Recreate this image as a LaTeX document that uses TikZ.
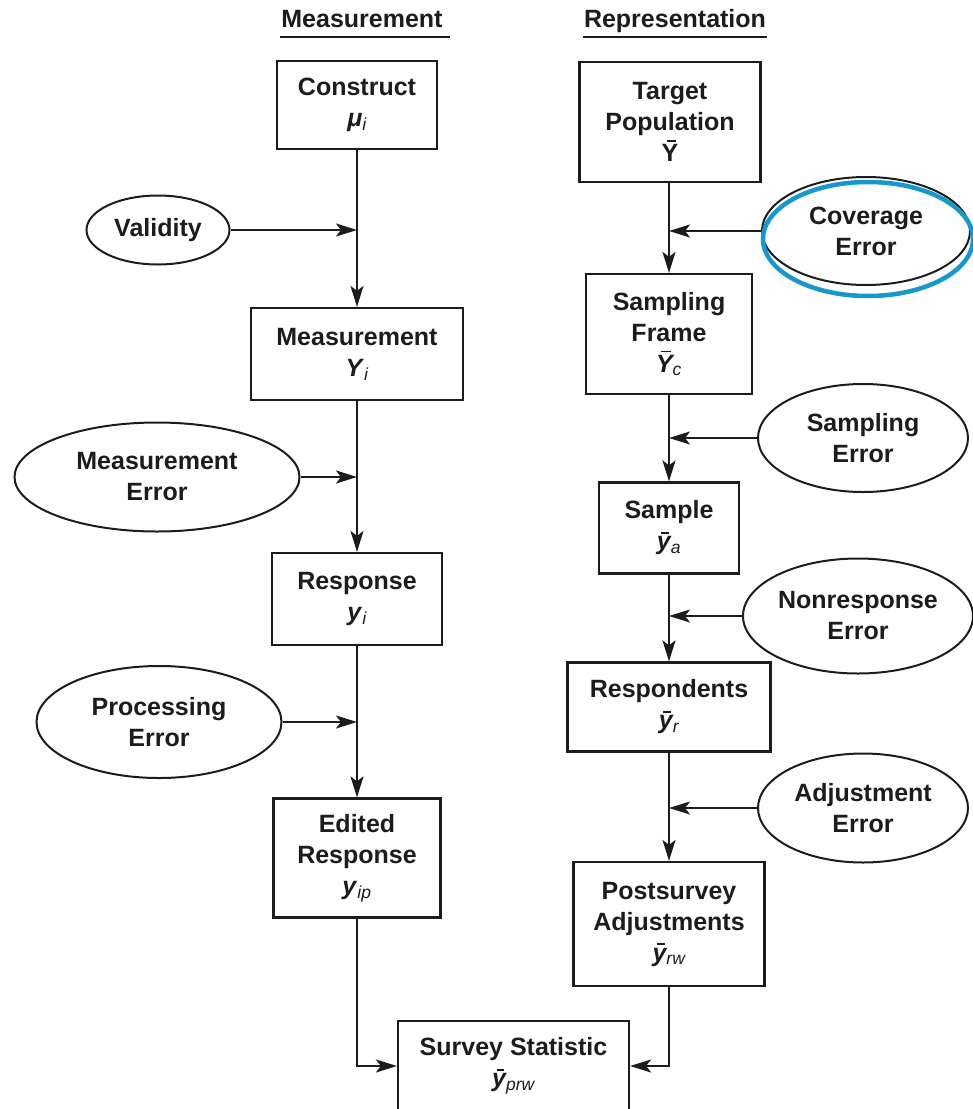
\documentclass[tikz,border=0pt]{standalone}
\usepackage{fontspec}
\setmainfont{Liberation Sans}
\usetikzlibrary{shapes.geometric,arrows.meta}

\definecolor{ink}{RGB}{28,28,28}
\definecolor{hilite}{RGB}{22,152,204}

% letter with a short bar above it
\newcommand\barred[1]{\setbox0=\hbox{#1}\hbox{\rlap{\kern0.32\wd0\raise\dimexpr\ht0+2.5pt\relax\hbox{\vrule width0.55\wd0 height1.9pt depth0pt}}\box0}}
% light italic index
\newcommand\idx[1]{\textsubscript{\normalfont\itshape #1}}

\begin{document}
\begin{tikzpicture}[x=1pt,y=-1pt,
  font=\fontsize{25}{31}\selectfont\bfseries,
  box/.style={draw=ink, line width=2.2pt, rectangle, align=center, inner sep=0pt, text=ink},
  err/.style={draw=ink, line width=2pt, ellipse, align=center, inner sep=0pt, text=ink},
  flow/.style={draw=ink, line width=2.2pt, -{Stealth[length=21pt,width=13pt,inset=5pt]}},
  rule/.style={draw=ink, line width=2.2pt}]

\useasboundingbox (0,0) rectangle (973,1109);

% column headings
\node[anchor=base, text=ink] (hdrM) at (362,27) {Measurement};
\node[anchor=base, text=ink] (hdrR) at (675,27) {Representation};
\draw[rule] (280,37) -- (450,37);
\draw[rule] (583,37) -- (767,37);

% measurement side
\node[box, minimum width=160pt, minimum height=88pt] (construct) at (357,105)
  {Construct\\\textit{μ}\idx{i}};
\node[box, minimum width=212pt, minimum height=92pt] (measurement) at (357,354)
  {Measurement\\\textit{Y}\idx{i}};
\node[box, minimum width=170pt, minimum height=92pt] (response) at (357,599)
  {Response\\\textit{y}\idx{i}};
\node[box, minimum width=167pt, minimum height=119pt] (edited) at (357,858)
  {Edited\\Response\\\textit{y}\idx{ip}};

\node[err, minimum width=143pt, minimum height=69pt] (validity) at (158,230) {Validity};
\node[err, minimum width=285pt, minimum height=109pt] (measerr) at (157,477) {Measurement\\Error};
\node[err, minimum width=245pt, minimum height=112pt] (procerr) at (159,722) {Processing\\Error};

% representation side
\node[box, minimum width=181pt, minimum height=120pt] (target) at (670,122)
  {Target\\Population\\\barred{Y}};
\node[box, minimum width=166pt, minimum height=120pt] (frame) at (669,334)
  {Sampling\\Frame\\\barred{\itshape Y}\idx{c}};
\node[box, minimum width=140pt, minimum height=91pt] (sample) at (669,528)
  {Sample\\\barred{\itshape y}\idx{a}};
\node[box, minimum width=203pt, minimum height=89pt] (respondents) at (669,707)
  {Respondents\\\barred{\itshape y}\idx{r}};
\node[box, minimum width=191pt, minimum height=124pt] (postsurvey) at (669,924)
  {Postsurvey\\Adjustments\\\barred{\itshape y}\idx{rw}};

\node[err, minimum width=208pt, minimum height=108pt] (coverage) at (866,231) {Coverage\\Error};
\node[draw=hilite, line width=4.5pt, ellipse, inner sep=0pt, minimum width=210pt, minimum height=114pt] (covring) at (868,239) {};
\node[err, minimum width=210pt, minimum height=108pt] (samperr) at (863,438) {Sampling\\Error};
\node[err, minimum width=230pt, minimum height=115pt] (nonresp) at (858,616) {Nonresponse\\Error};
\node[err, minimum width=210pt, minimum height=109pt] (adjerr) at (863,808) {Adjustment\\Error};

% final estimate
\node[box, minimum width=231pt, minimum height=90pt] (survey) at (513.5,1066)
  {Survey Statistic\\\barred{\itshape y}\idx{prw}};

% vertical flow, measurement side
\draw[flow] (construct.south) -- (construct.south |- measurement.north);
\draw[flow] (measurement.south) -- (measurement.south |- response.north);
\draw[flow] (response.south) -- (response.south |- edited.north);
\draw[flow] (validity.east) -- (validity.east -| construct.south);
\draw[flow] (measerr.east) -- (measerr.east -| measurement.south);
\draw[flow] (procerr.east) -- (procerr.east -| response.south);

% vertical flow, representation side
\draw[flow] (target.south -| frame.north) -- (frame.north);
\draw[flow] (frame.south) -- (frame.south |- sample.north);
\draw[flow] (sample.south) -- (sample.south |- respondents.north);
\draw[flow] (respondents.south) -- (respondents.south |- postsurvey.north);
\draw[flow] (coverage.west) -- (coverage.west -| frame.north);
\draw[flow] (samperr.west) -- (samperr.west -| sample.north);
\draw[flow] (nonresp.west) -- (nonresp.west -| respondents.north);
\draw[flow] (adjerr.west) -- (adjerr.west -| postsurvey.north);

% both sides meet in the survey statistic
\draw[flow] (edited.south) |- (survey.west);
\draw[flow] (postsurvey.south) |- (survey.east);

\end{tikzpicture}
\end{document}
